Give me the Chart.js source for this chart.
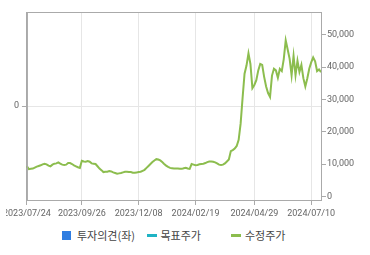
<!DOCTYPE html>
<html>
<head>
<meta charset="utf-8">
<script src="https://cdn.jsdelivr.net/npm/chart.js@4.4.1/dist/chart.umd.min.js"></script>
<style>
  body { margin: 0; background: #fff; }
  #wrap { position: absolute; left: 6px; top: 0; width: 364px; height: 222px; overflow: hidden; }
  #chart { position: absolute; left: -6px; top: 0; }
  #legend { position: absolute; left: 62px; top: 229px; display: flex; font: 11px "Noto Sans CJK KR", sans-serif; color: #444; }
  .item { width: 84.5px; display: flex; align-items: center; height: 12px; white-space: nowrap; }
</style>
</head>
<body>
<div id="wrap"><canvas id="chart" width="370" height="222"></canvas></div>
<div id="legend"></div>
<script>
const tickLabels = ["2023/07/24", "2023/09/26", "2023/12/08", "2024/02/19", "2024/04/29", "2024/07/10"];
const tickIndex = [0, 28, 57, 86, 116, 145];
const rightTicks = [0, 10000, 20000, 30000, 40000, 50000];

// 수정주가 (원)
const price = [
  9300, 8400, 8500, 8600, 8900, 9200, 9400, 9600, 9900, 10100,
  9900, 9500, 9300, 9800, 10100, 10200, 10500, 10100, 9800, 9700,
  9800, 10300, 10300, 10000, 9600, 9300, 9000, 8800, 11000, 10800,
  10700, 10900, 10700, 10200, 10100, 10000, 9300, 8600, 8100, 7500,
  7600, 7600, 7800, 7700, 7400, 7200, 7000, 7100, 7200, 7400,
  7600, 7600, 7500, 7500, 7300, 7300, 7400, 7500, 7600, 7900,
  8200, 8800, 9400, 10000, 10600, 11100, 11500, 11400, 11100, 10600,
  10000, 9500, 9100, 8800, 8700, 8600, 8600, 8600, 8500, 8500,
  8700, 8800, 8600, 8500, 10000, 9800, 9600, 9700, 9900, 10000,
  10100, 10300, 10600, 10800, 10800, 10700, 10500, 10200, 9800, 9700,
  9800, 10200, 10800, 11400, 14000, 14300, 14800, 15600, 17500, 22500,
  30500, 38000, 40500, 44300, 41000, 33500, 34500, 36000, 39000, 41000,
  40700, 37000, 34000, 32000, 30800, 37400, 39500, 39000, 36700, 39500,
  38800, 42500, 48300, 45500, 42600, 37500, 43500, 37500, 42000, 38500,
  40700, 36600, 34000, 36500, 39500, 41500, 43000, 41800, 38800, 39300,
  38500
];
const targetPrice = [];
const opinion = [];

const labels = price.map((v, i) => {
  const k = tickIndex.indexOf(i);
  return k < 0 ? "" : tickLabels[k];
});

const tickFont = { family: "Roboto", size: 9 };

const frame = {
  id: "frame",
  afterDatasetsDraw(chart) {
    const { ctx, chartArea: a } = chart;
    ctx.save();
    ctx.strokeStyle = "#aaa";
    ctx.lineWidth = 1;
    ctx.strokeRect(a.left + 0.5, a.top + 0.5, a.right - a.left, a.bottom - a.top);
    ctx.restore();
  }
};

const ctx = document.getElementById("chart").getContext("2d");
const myChart = new Chart(ctx, {
  type: "line",
  data: {
    labels: labels,
    datasets: [
      {
        type: "bar",
        label: "투자의견(좌)",
        data: opinion,
        backgroundColor: "#2f7de1",
        yAxisID: "y",
      },
      {
        label: "목표주가",
        data: targetPrice,
        borderColor: "#1fb3c4",
        borderWidth: 2,
        pointRadius: 0,
        yAxisID: "y1",
      },
      {
        label: "수정주가",
        data: price,
        borderColor: "#8cbd4e",
        borderWidth: 2,
        pointRadius: 0,
        tension: 0,
        yAxisID: "y1",
      }
    ],
  },
  options: {
    responsive: false,
    animation: false,
    layout: { padding: { top: 12, left: 0, right: 0, bottom: 0 } },
    plugins: { legend: { display: false }, tooltip: { enabled: false } },
    scales: {
      x: {
        offset: false,
        afterBuildTicks: axis => { axis.ticks = tickIndex.map(i => ({ value: i })); },
        afterFit: axis => { axis.height = 22; },
        grid: { offset: false, color: "#e6e6e6", tickColor: "#aaa", tickLength: 5 },
        border: { color: "#aaa" },
        ticks: { autoSkip: false, maxRotation: 0, minRotation: 0, padding: 3, color: "#666", font: tickFont },
      },
      y: {
        position: "left",
        min: -1,
        max: 1,
        afterBuildTicks: axis => { axis.ticks = [{ value: 0 }]; },
        afterFit: axis => { axis.width = 26; },
        grid: { color: "#e6e6e6", tickColor: "#aaa", tickLength: 5 },
        border: { color: "#aaa" },
        ticks: { padding: 3, color: "#666", font: tickFont },
      },
      y1: {
        position: "right",
        min: -1150,
        max: 57100,
        afterBuildTicks: axis => { axis.ticks = rightTicks.map(v => ({ value: v })); },
        afterFit: axis => { axis.width = 49; },
        grid: { drawOnChartArea: false, tickColor: "#aaa", tickLength: 5 },
        border: { color: "#aaa" },
        ticks: {
          padding: 1,
          color: "#666",
          font: tickFont,
          callback: v => v.toLocaleString("en-US"),
        },
      },
    },
  },
  plugins: [frame],
});

// legend
const legend = document.getElementById("legend");
myChart.data.datasets.forEach(ds => {
  const item = document.createElement("div");
  item.className = "item";
  const mark = document.createElement("span");
  if (ds.type === "bar") {
    mark.style.cssText = `display:inline-block;width:9px;height:9px;margin-right:6px;background:${ds.backgroundColor}`;
  } else {
    mark.style.cssText = `display:inline-block;width:10px;height:3px;margin-right:4px;background:${ds.borderColor}`;
  }
  const txt = document.createElement("span");
  txt.textContent = ds.label;
  item.appendChild(mark);
  item.appendChild(txt);
  legend.appendChild(item);
});
</script>
</body>
</html>
